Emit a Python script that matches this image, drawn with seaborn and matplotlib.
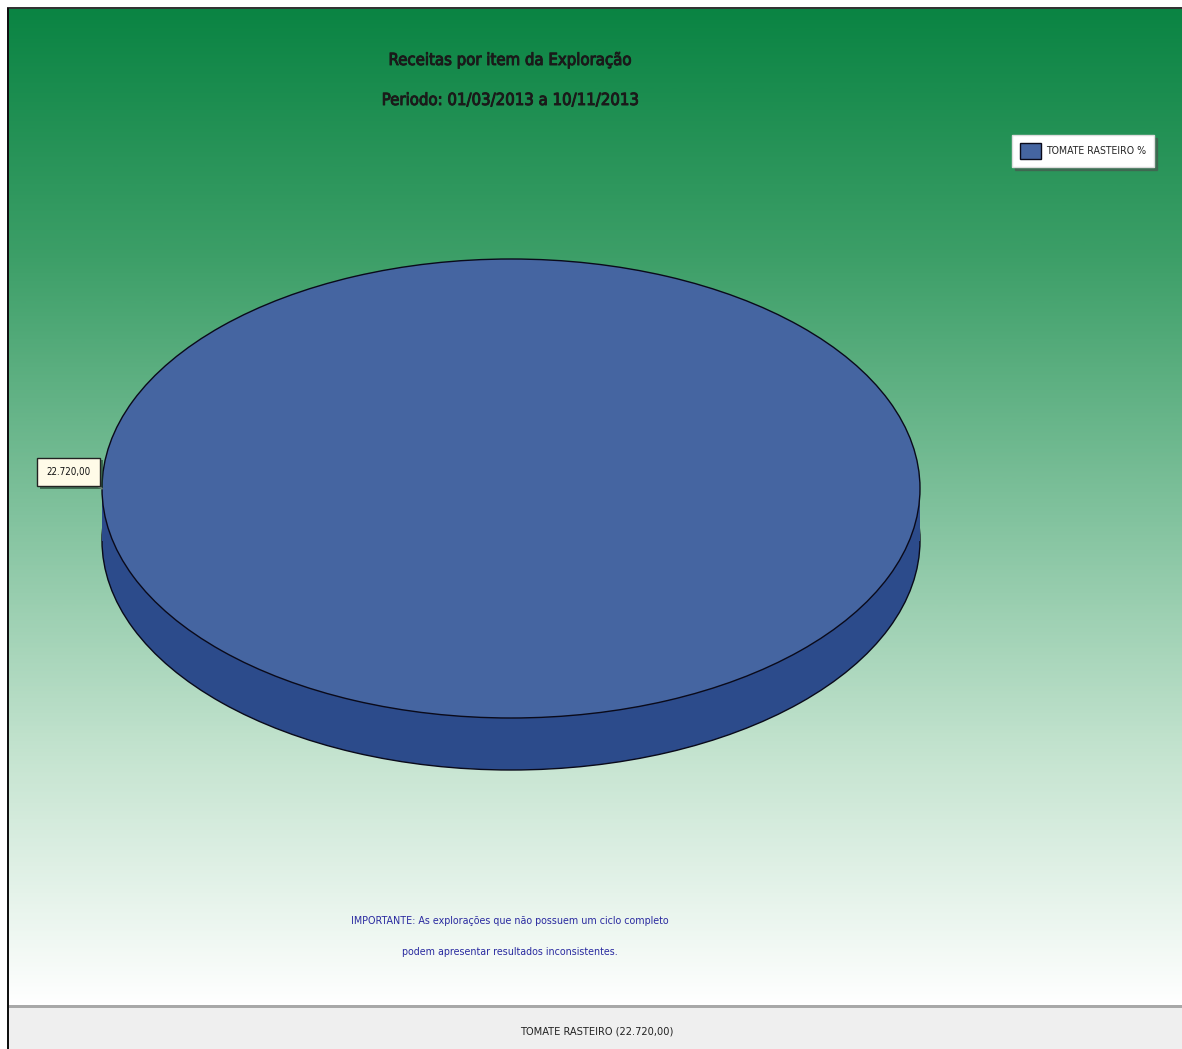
import numpy as np
import matplotlib
matplotlib.use("Agg")
import matplotlib.pyplot as plt
from matplotlib.patches import Rectangle
from matplotlib.colors import LinearSegmentedColormap
import matplotlib.patheffects as pe
import seaborn as sns

# Revenue per farm item over the period
categories = ["TOMATE RASTEIRO"]
receitas = [22720.00]
title_lines = ["Receitas por item da Exploração", "Periodo: 01/03/2013 a 10/11/2013"]
note_lines = ["IMPORTANTE: As explorações que não possuem um ciclo completo",
              "podem apresentar resultados inconsistentes."]


def fmt_br(v):
    s = f"{v:,.2f}"
    return s.replace(",", "X").replace(".", ",").replace("X", ".")


sns.set_theme(style="white")
plt.rcParams["font.family"] = ["DejaVu Sans Condensed", "Liberation Sans Narrow", "DejaVu Sans"]
plt.rcParams["font.stretch"] = "condensed"

W, H = 1182, 1049
fig = plt.figure(figsize=(W / 100, H / 100), dpi=100)
fig.patch.set_facecolor("white")


def fx(px):
    return px / W


def fy(py):
    return 1 - py / H


# Gradient background panel
bg = fig.add_axes([fx(8), fy(1006), fx(W - 8), (1006 - 8) / H])
grad_cmap = LinearSegmentedColormap.from_list(
    "greenfade", ["#0a8443", "#3d9f68", "#7fc19c", "#c5e4d0", "#ffffff"])
g = np.linspace(0, 1, 512).reshape(-1, 1)
bg.imshow(g, aspect="auto", cmap=grad_cmap, extent=(0, 1, 0, 1), origin="upper")
bg.set_axis_off()

# frame lines: top, left, and bottom status bar
fig.add_artist(Rectangle((fx(7), fy(9)), 1, 2 / H, transform=fig.transFigure,
                         color="#333333", lw=0))
fig.add_artist(Rectangle((fx(7), 0), 1.5 / W, fy(8), transform=fig.transFigure,
                         color="#111111", lw=0))
fig.add_artist(Rectangle((fx(8.5), 0), 1, fy(1007), transform=fig.transFigure,
                         color="#efefef", lw=0))
fig.add_artist(Rectangle((fx(8.5), fy(1008)), 1, 3 / H, transform=fig.transFigure,
                         color="#a8a8a8", lw=0))

# Pie axes: top face ellipse spans x 102..920, y 259..718, side depth 52 px
a_px, b_px, depth_px = 409.0, 229.5, 52.0
d = depth_px / b_px
ax = fig.add_axes([fx(102), fy(718 + depth_px), 818 / W, (718 + depth_px - 259) / H])
ax.set_axis_off()

top_color = "#4565a1"
side_color = "#2c4b8b"
edge_kw = dict(edgecolor="#0a0a1a", linewidth=1.0)

side_wedges, _ = ax.pie(receitas, colors=[side_color], radius=1, center=(0, -d),
                        wedgeprops=edge_kw)
band = Rectangle((-1, -d), 2, d, facecolor=side_color, edgecolor="none", zorder=1.5)
ax.add_patch(band)
top_wedges, _ = ax.pie(receitas, colors=[top_color], radius=1, center=(0, 0),
                       wedgeprops=edge_kw)
for w in top_wedges:
    w.set_zorder(3)
for p in ax.patches:
    p.set_clip_on(False)
ax.set_aspect("auto")
ax.set_xlim(-1, 1)
ax.set_ylim(-1 - d, 1)

# Value label at the middle angle of each wedge
for w, v in zip(top_wedges, receitas):
    mid = np.deg2rad((w.theta1 + w.theta2) / 2)
    px_, py_ = np.cos(mid), np.sin(mid)
    ann = ax.annotate(fmt_br(v), xy=(px_, py_), xytext=(-24, 12), textcoords="offset points",
                      ha="center", va="center", fontsize=7.0, color="#111111",
                      bbox=dict(boxstyle="square,pad=0.95", facecolor="#fffbe8",
                                edgecolor="#222222", linewidth=1.0),
                      arrowprops=dict(arrowstyle="-", color="#f0f0f0", lw=1.2,
                                      shrinkA=0, shrinkB=0),
                      zorder=5, annotation_clip=False)
    ann.get_bbox_patch().set_path_effects(
        [pe.SimplePatchShadow(offset=(2, -2), shadow_rgbFace="#1a3a28", alpha=0.6),
         pe.Normal()])

# Legend
leg = fig.legend(top_wedges, [f"{c} %" for c in categories], loc="upper left",
                 bbox_to_anchor=(fx(1012), fy(135)), bbox_transform=fig.transFigure,
                 borderaxespad=0, frameon=True, fancybox=False, shadow=True,
                 fontsize=7.6, handlelength=2.0, handleheight=2.0,
                 borderpad=0.75, handletextpad=0.5)
leg.get_frame().set_facecolor("white")
leg.get_frame().set_edgecolor("#dddddd")

# Title
heavy = [pe.withStroke(linewidth=0.7, foreground="#1a1a1a")]
fig.text(fx(510), fy(60), title_lines[0], ha="center", va="center",
         fontsize=12, color="#1a1a1a", path_effects=heavy)
fig.text(fx(510), fy(100), title_lines[1], ha="center", va="center",
         fontsize=12, color="#1a1a1a", path_effects=heavy)

# Note
fig.text(fx(510), fy(921), note_lines[0], ha="center", va="center",
         fontsize=7.7, color="#2a2aa0")
fig.text(fx(510), fy(952), note_lines[1], ha="center", va="center",
         fontsize=7.7, color="#2a2aa0")

# Status bar caption
fig.text(fx(597), fy(1031), f"{categories[0]} ({fmt_br(receitas[0])})", ha="center",
         va="center", fontsize=7.9, color="#222222")

fig.savefig("out.png", dpi=100)
